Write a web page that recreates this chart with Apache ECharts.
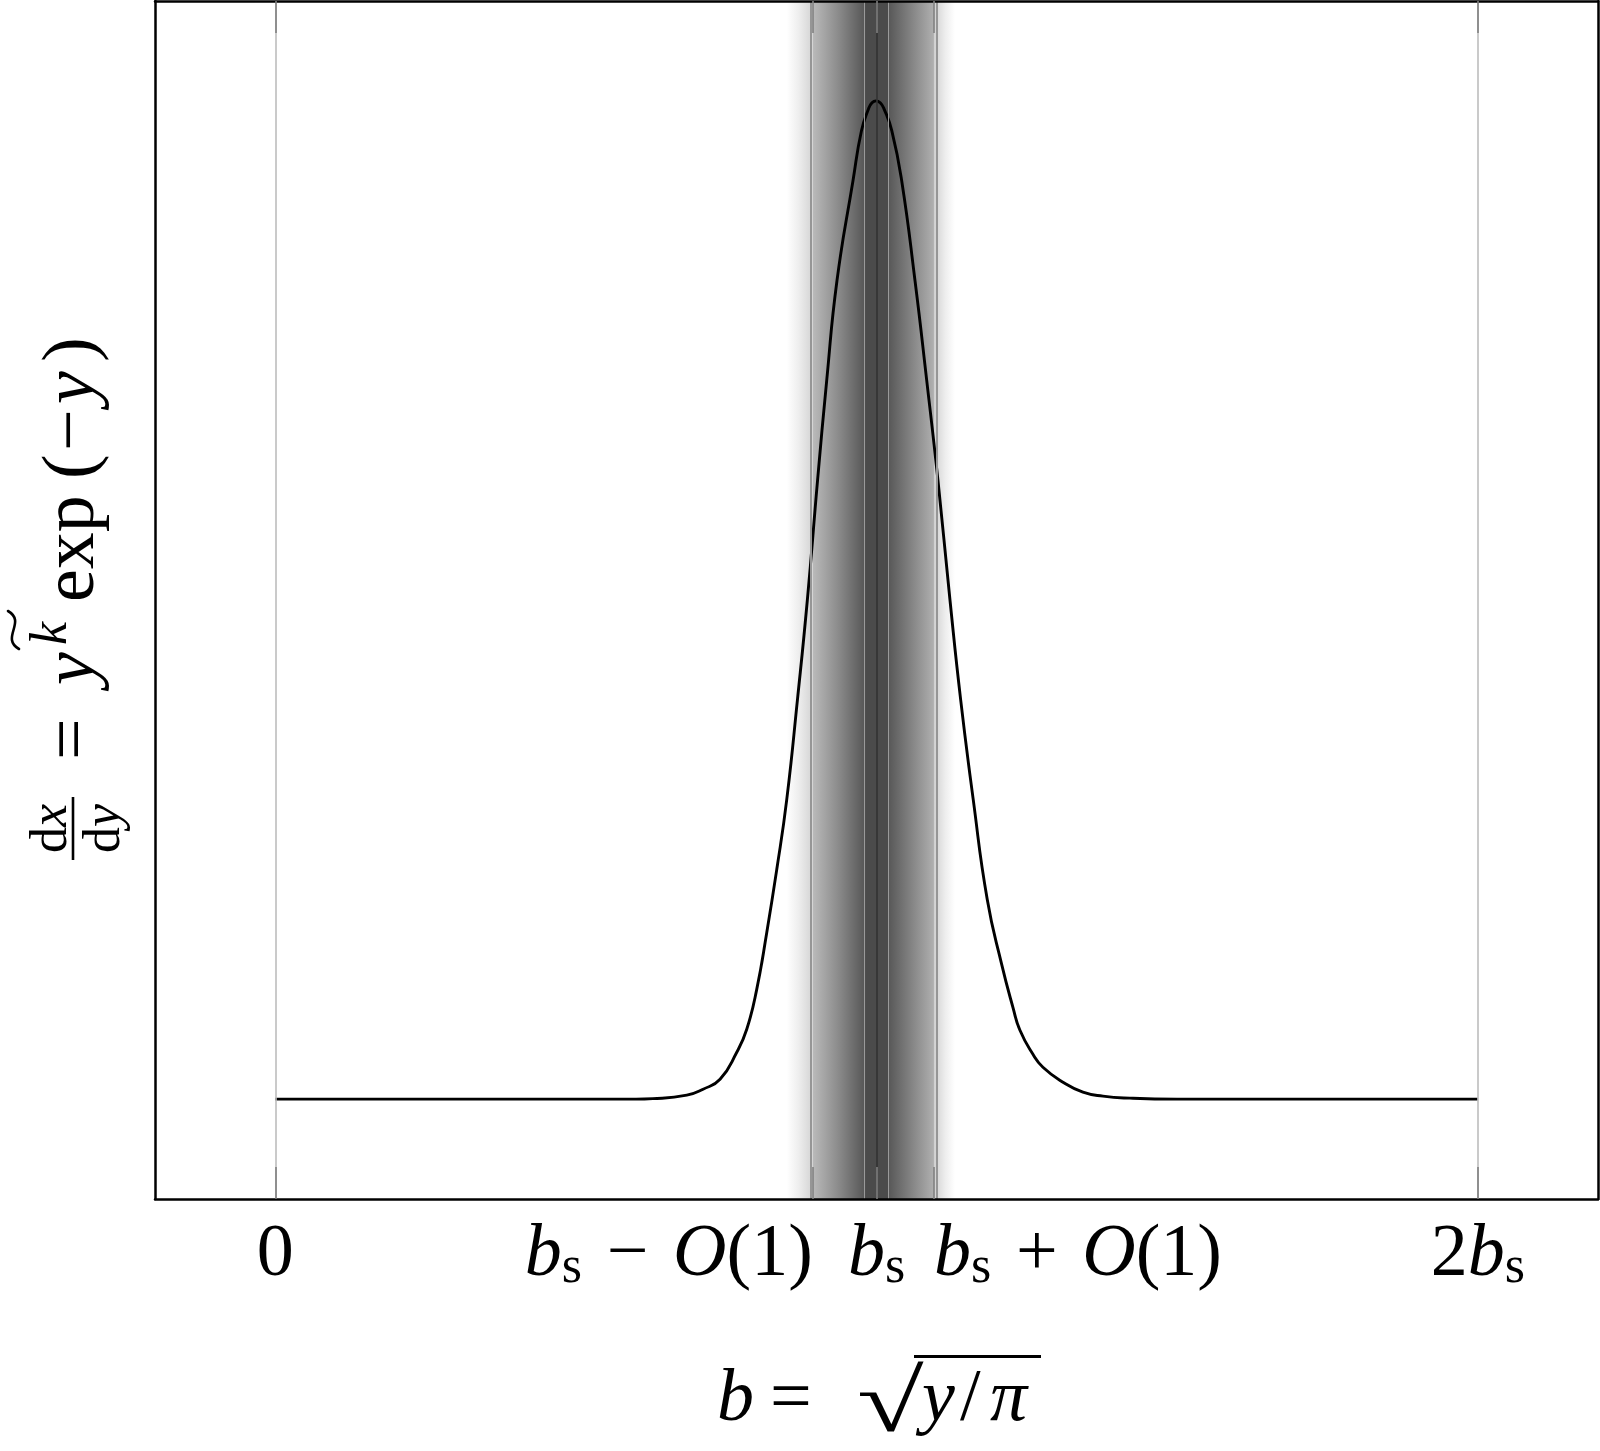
<!DOCTYPE html>
<html><head><meta charset="utf-8">
<script src="https://cdn.jsdelivr.net/npm/echarts@6/dist/echarts.min.js"></script>
<style>html,body{margin:0;padding:0;background:#fff}#c{width:1600px;height:1451px}</style>
</head><body><div id="c"></div>
<script>
// ---- data (b in units of b_s, f normalised to the peak) ----
const curveB = [0, 0.3, 0.6, 0.628, 0.6845, 0.7116, 0.7398, 0.7676, 0.7842, 0.8008, 0.8175, 0.8341, 0.8507, 0.8685, 0.8850, 0.9020, 0.9172, 0.9343, 0.9609, 0.9750, 0.9868, 0.9925, 0.9992, 1.0062, 1.0125, 1.0255, 1.0419, 1.0640, 1.0835, 1.1022, 1.1222, 1.1400, 1.1609, 1.1842, 1.2082, 1.2269, 1.2386, 1.2602, 1.2768, 1.3101, 1.3433, 1.3766, 1.4214, 1.5, 1.8, 2.0];
const curveF = [0, 0, 0, 0.0005, 0.004, 0.01, 0.02, 0.047, 0.07, 0.11, 0.167, 0.23, 0.3, 0.4, 0.5, 0.62, 0.72, 0.82, 0.92, 0.97, 0.992, 0.998, 1.0, 0.998, 0.992, 0.97, 0.92, 0.82, 0.72, 0.62, 0.5, 0.4, 0.3, 0.2, 0.135, 0.092, 0.069, 0.045, 0.032, 0.017, 0.007, 0.003, 0.001, 0, 0, 0];
const tickValues = [0, 0.8941, 1, 1.0956, 2];
const tickLabels = ['{r|0}', '{i|b}{s|s}{r|\u2004−\u2004}{i|O}{r|(1)}', '{i|b}{s|s}', '{i|b}{s|s}{r|\u2004+\u2004}{i|O}{r|(1)}', '{r|2}{i|b}{s|s}'];
const bandEdges = [0.8507, 0.8941, 0.9809, 1.0196, 1.0956, 1.1305];
const guideLines = [0, 0.8941, 0.9809, 1, 1.0196, 1.0956, 2];
const xRange = [-0.2, 2.2];
const yRange = [-0.1, 1.1];

// ---- styles ----
const tickAlign = ['center', 'right', 'center', 'left', 'center'];
const bandStops = [
  [[0, '#ffffff'], [0.45, '#eeeeee'], [1, '#d3d3d3']],
  [[0, '#bababa'], [0.5, '#8a8a8a'], [1, '#565656']],
  [[0, '#4b4b4b'], [1, '#4b4b4b']],
  [[0, '#575757'], [0.5, '#838383'], [1, '#b0b0b0']],
  [[0, '#d0d0d0'], [0.55, '#eeeeee'], [1, '#ffffff']]
];
const guideStyle = [
  {color: '#bdbdbd', width: 1.6},
  {color: '#969696', width: 2},
  {color: '#9a9a9a', width: 1},
  {color: '#333333', width: 1.6},
  {color: '#9a9a9a', width: 1},
  {color: '#969696', width: 2},
  {color: '#bdbdbd', width: 1.6}
];

const FONT = '"Liberation Serif", "Times New Roman", serif';
const FS = 74, SFS = 52;

const mctx = document.createElement('canvas').getContext('2d');
const fontOf = {r: FS + 'px ' + FONT, i: 'italic ' + FS + 'px ' + FONT, s: SFS + 'px ' + FONT};
function measure(markup) {
  let w = 0;
  markup.replace(/\{(\w+)\|([^}]*)\}/g, (m, st, tx) => { mctx.font = fontOf[st]; w += mctx.measureText(tx).width; return m; });
  return w;
}
const rich = {
  r: {fontFamily: FONT, fontSize: FS, lineHeight: 80, color: '#000'},
  i: {fontFamily: FONT, fontSize: FS, fontStyle: 'italic', lineHeight: 80, color: '#000'},
  s: {fontFamily: FONT, fontSize: SFS, lineHeight: 32, verticalAlign: 'bottom', color: '#000'}
};
tickLabels.forEach((t, k) => { if (tickAlign[k] !== 'center') rich['sp' + k] = {width: measure(t), lineHeight: 20}; });

function labelFor(v) {
  const k = tickValues.findIndex(t => Math.abs(t - v) < 1e-6);
  if (k < 0) return '';
  let s = tickLabels[k];
  if (tickAlign[k] === 'right') s = s + '{sp' + k + '|\u00a0}';
  else if (tickAlign[k] === 'left') s = '{sp' + k + '|\u00a0}' + s;
  return s;
}

function txt(text, x, base, size, italic, align, extra) {
  const el = {type: 'text', x: x, y: base - 0.3375 * size, silent: true,
    style: {text: text, fontSize: size, fontFamily: FONT, fontStyle: italic ? 'italic' : 'normal', fill: '#000', align: align || 'left', verticalAlign: 'middle'}};
  if (extra) Object.assign(el, extra);
  return el;
}
function richTxt(text, x, base, size, align) {
  return {type: 'text', x: x, y: base - 0.3375 * size, silent: true,
    style: {text: text, fill: '#000', align: align || 'left', verticalAlign: 'middle',
      rich: {r: {fontFamily: FONT, fontSize: size, fill: '#000'}, i: {fontFamily: FONT, fontSize: size, fontStyle: 'italic', fill: '#000'}}}};
}

const bandData = [];
for (let k = 0; k < bandEdges.length - 1; k++) {
  bandData.push([
    {xAxis: bandEdges[k], itemStyle: {opacity: 1, color: {type: 'linear', x: 0, y: 0, x2: 1, y2: 0,
      colorStops: bandStops[k].map(s => ({offset: s[0], color: s[1]}))}}},
    {xAxis: bandEdges[k + 1]}
  ]);
}
const lineData = guideLines.map((v, k) => ({xAxis: v, lineStyle: {color: guideStyle[k].color, width: guideStyle[k].width, type: 'solid', opacity: 1}}));

const axisFrame = {show: true, onZero: false, lineStyle: {color: '#000', width: 2.5}};
const tickStyle = {show: true, inside: true, length: 32, customValues: tickValues, lineStyle: {color: '#808080', width: 1.6}};

const option = {
  animation: false,
  backgroundColor: '#fff',
  grid: {left: 155, right: 2, top: 1, bottom: 252, containLabel: false},
  xAxis: [
    {type: 'value', min: xRange[0], max: xRange[1], position: 'bottom', z: 10,
      axisLine: axisFrame, axisTick: tickStyle, splitLine: {show: false},
      axisLabel: {show: true, customValues: tickValues, formatter: labelFor, margin: 11, rich: rich, color: '#000'}},
    {type: 'value', min: xRange[0], max: xRange[1], position: 'top', z: 10,
      axisLine: axisFrame, axisTick: tickStyle, splitLine: {show: false}, axisLabel: {show: false}}
  ],
  yAxis: [
    {type: 'value', min: yRange[0], max: yRange[1], position: 'left', z: 10,
      axisLine: axisFrame, axisTick: {show: false}, splitLine: {show: false}, axisLabel: {show: false}},
    {type: 'value', min: yRange[0], max: yRange[1], position: 'right', z: 10,
      axisLine: axisFrame, axisTick: {show: false}, splitLine: {show: false}, axisLabel: {show: false}}
  ],
  series: [
    {type: 'line', name: 'band', data: [], z: 1, silent: true,
      markArea: {silent: true, label: {show: false}, data: bandData}},
    {type: 'line', name: 'guides', data: [], z: 2, silent: true,
      markLine: {silent: true, symbol: ['none', 'none'], label: {show: false}, data: lineData}},
    {type: 'line', name: 'dx/dy', z: 3, silent: true, showSymbol: false, symbol: 'none',
      smooth: 0.5, lineStyle: {color: '#000', width: 2.9, join: 'round'},
      data: curveB.map((b, k) => [b, curveF[k]])}
  ],
  graphic: [
    // x axis title: b = sqrt(y/pi)
    txt('b', 717, 1420, FS, true),
    txt('=', 770, 1420, FS, false),
    txt('√', 857, 1431, 88, false, 'left', {scaleX: 1.38}),
    txt('y', 922, 1420, FS, true),
    txt('/', 960, 1420, FS, false),
    txt('π', 990, 1420, FS, true),
    {type: 'rect', silent: true, shape: {x: 914, y: 1355, width: 127, height: 3}, style: {fill: '#000'}},
    // y axis title (rotated)
    {type: 'group', x: 93, y: 860, rotation: Math.PI / 2, silent: true, children: [
      richTxt('{r|d}{i|x}', 31.5, -27, SFS, 'center'),
      {type: 'rect', shape: {x: 0, y: -21.3, width: 63, height: 2.6}, style: {fill: '#000'}},
      richTxt('{r|d}{i|y}', 31.5, 26, SFS, 'center'),
      txt('=', 100, 0, FS, false),
      txt('y', 175, 0, FS, true),
      txt('k', 215, -27, SFS, true),
      {type: 'bezierCurve', silent: true,
        shape: {x1: 211, y1: -74, cpx1: 222, cpy1: -93, cpx2: 238, cpy2: -66, x2: 249, y2: -85},
        style: {stroke: '#000', lineWidth: 2.6, fill: 'none', lineCap: 'round'}},
      txt('exp', 258, 0, FS, false),
      txt('(', 381, 0, FS, false),
      txt('−', 409, 0, FS, false),
      txt('y', 456, 0, FS, true),
      txt(')', 498, 0, FS, false)
    ]}
  ]
};
const chart = echarts.init(document.getElementById('c'), null, {renderer: 'svg'});
chart.setOption(option);
</script></body></html>
